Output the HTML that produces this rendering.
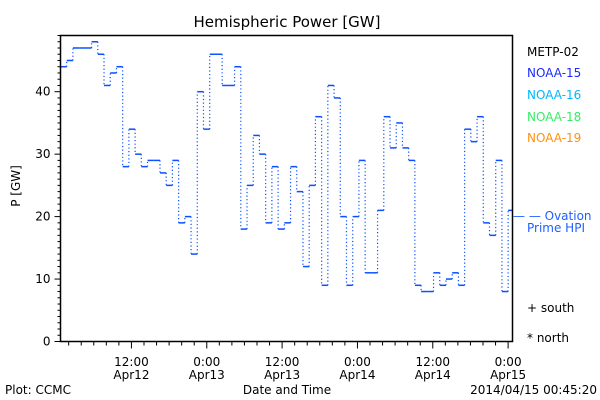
<!DOCTYPE html>
<html><head><meta charset="utf-8"><style>
body{margin:0;background:#fff}
svg{display:block;font-family:"DejaVu Sans","Liberation Sans",sans-serif}
</style></head><body>
<svg id="chart" width="600" height="400" viewBox="0 0 600 400">
<rect width="600" height="400" fill="#fff"/>
<text x="287" y="27" font-size="15" text-anchor="middle">Hemispheric Power [GW]</text>
<text transform="translate(20,186) rotate(-90)" font-size="12" text-anchor="middle">P [GW]</text>
<text x="287" y="394" font-size="12" text-anchor="middle">Date and Time</text>
<text x="5" y="394" font-size="12">Plot: CCMC</text>
<text x="597" y="394" font-size="12" text-anchor="end">2014/04/15 00:45:20</text>
<g id="ticks"></g>
<g id="series"></g>
<rect x="60.5" y="35.5" width="452" height="306" fill="none" stroke="#000" stroke-width="1.5"/>
<g font-size="12">
<text x="527" y="56" fill="#000">METP-02</text>
<text x="527" y="77" fill="#1a2cff">NOAA-15</text>
<text x="527" y="99" fill="#00b8ff">NOAA-16</text>
<text x="527" y="121" fill="#33ee66">NOAA-18</text>
<text x="527" y="142" fill="#ff9010">NOAA-19</text>
<text x="513" y="220" fill="#2060ff">— — Ovation</text>
<text x="527" y="232" fill="#2060ff">Prime HPI</text>
<text x="527" y="312" fill="#000">+ south</text>
<text x="527" y="342" fill="#000">* north</text>
</g>
</svg>
<script>
const hpiValues=[44,45,47,47,47,48,46,41,43,44,28,34,30,28,29,29,27,25,29,19,20,14,40,34,46,46,41,41,44,18,25,33,30,19,28,18,19,28,24,12,25,36,9,41,39,20,9,20,29,11,11,21,36,31,35,31,29,9,8,8,11,9,10,11,9,34,32,36,19,17,29,8,21];
const yTickValues=[0,10,20,30,40];
const xTickHours=[-12,0,12,24,36,48];
const xTickLabels=[["12:00","Apr12"],["0:00","Apr13"],["12:00","Apr13"],["0:00","Apr14"],["12:00","Apr14"],["0:00","Apr15"]];
const NS="http://www.w3.org/2000/svg";
const L=60.5,R=512.5,T=35.5,B=341.5;
const yMax=49;
const stepDomain=72.7;
const hStart=-23.3,hEnd=48.7;
function y(v){return B-v/yMax*(B-T);}
function xs(i){return L+i/stepDomain*(R-L);}
function xt(h){return L+(h-hStart)/(hEnd-hStart)*(R-L);}
function mk(tag,attrs,parent){const e=document.createElementNS(NS,tag);for(const k in attrs)e.setAttribute(k,attrs[k]);parent.appendChild(e);return e;}
const tg=document.getElementById('ticks');
for(let v=0;v<=yMax;v++){const maj=v%10===0;const l=mk('line',{x1:L-(maj?6:3),x2:L,y1:y(v),y2:y(v),stroke:'#000','stroke-width':1},tg);

}
yTickValues.forEach(v=>{const t=mk('text',{x:L-10,y:y(v)+4,'font-size':12,'text-anchor':'end'},tg);t.textContent=v;

});
for(let h=-22;h<=48;h+=2){const maj=h%12===0;const l=mk('line',{x1:xt(h),x2:xt(h),y1:B,y2:B+(maj?7:4),stroke:'#000','stroke-width':1},tg);

}
xTickHours.forEach((h,i)=>{[0,1].forEach(k=>{const t=mk('text',{x:xt(h),y:366+k*13,'font-size':12,'text-anchor':'middle'},tg);t.textContent=xTickLabels[i][k];

});});
const sg=document.getElementById('series');
hpiValues.forEach((v,i)=>{const x1=xs(i),x2=Math.min(xs(i+1),R);
const h=mk('line',{x1:x1,x2:x2,y1:y(v),y2:y(v),stroke:'#0a50ff','stroke-width':1.5},sg);


if(i>0){const d=mk('line',{x1:x1,x2:x1,y1:y(hpiValues[i-1]),y2:y(v),stroke:'#0a50ff','stroke-width':1.2,'stroke-dasharray':'1.2,2.4'},sg);

}});
</script>
</body></html>
